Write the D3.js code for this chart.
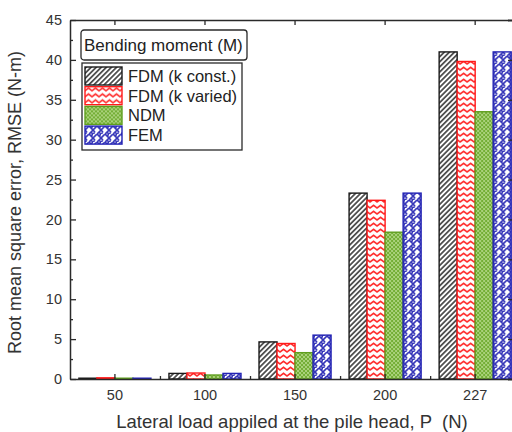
<!DOCTYPE html>
<html>
<head>
<meta charset="utf-8">
<script src="https://cdn.jsdelivr.net/npm/d3@7"></script>
<style>
  html, body { margin: 0; padding: 0; background: #fff; }
  svg { display: block; font-family: "Liberation Sans", Arial, sans-serif; }
</style>
</head>
<body>
<svg id="chart" width="512" height="432"></svg>
<script>
// Lateral loads (category labels)
const loads = ["50", "100", "150", "200", "227"];
// RMSE of bending moment for each method
const fdmConst = [0.1, 0.7, 4.65, 23.3, 41.0];
const fdmVaried = [0.15, 0.75, 4.45, 22.4, 39.8];
const ndm = [0.1, 0.5, 3.3, 18.4, 33.5];
const fem = [0.1, 0.7, 5.5, 23.3, 41.0];
const seriesNames = ["FDM (k const.)", "FDM (k varied)", "NDM", "FEM"];
const yTicks = [0, 5, 10, 15, 20, 25, 30, 35, 40, 45];

const seriesValues = [fdmConst, fdmVaried, ndm, fem];
const seriesColors = ["#1a1a1a", "#ff1a1a", "#5f9e1e", "#2323b4"];
const seriesPatterns = ["pat-hatch", "pat-zigzag", "pat-dots", "pat-weave"];

const svg = d3.select("#chart");
const plot = { left: 70, right: 514, top: 20, bottom: 379 };

const x = d3.scaleBand()
  .domain(loads)
  .range([plot.left, plot.right])
  .paddingInner(0.2)
  .paddingOuter(0.065)
  .align(0.76);
const xs = d3.scaleBand()
  .domain(seriesNames)
  .range([0, x.bandwidth()]);
const y = d3.scaleLinear().domain([0, 45]).range([plot.bottom, plot.top]);

// Fill patterns
const defs = svg.append("defs");

const hatch = defs.append("pattern").attr("id", "pat-hatch")
  .attr("patternUnits", "userSpaceOnUse").attr("width", 3.6).attr("height", 3.6)
  .attr("patternTransform", "rotate(45)");
hatch.append("rect").attr("width", 3.6).attr("height", 3.6).attr("fill", "#fff");
hatch.append("line").attr("x1", 0.9).attr("y1", 0).attr("x2", 0.9).attr("y2", 3.6)
  .attr("stroke", "#3a3a3a").attr("stroke-width", 1.6);

const zig = defs.append("pattern").attr("id", "pat-zigzag")
  .attr("patternUnits", "userSpaceOnUse").attr("width", 7).attr("height", 6);
zig.append("rect").attr("width", 7).attr("height", 6).attr("fill", "#fff");
zig.append("path").attr("d", "M-0.5,4.3 L3.5,1.3 L7.5,4.3")
  .attr("fill", "none").attr("stroke", "#ff2a2a").attr("stroke-width", 1.6);

const dots = defs.append("pattern").attr("id", "pat-dots")
  .attr("patternUnits", "userSpaceOnUse").attr("width", 4).attr("height", 4);
dots.append("rect").attr("width", 4).attr("height", 4).attr("fill", "#74ae36");
dots.append("circle").attr("cx", 1).attr("cy", 1).attr("r", 0.9).attr("fill", "#c4e29c");
dots.append("circle").attr("cx", 3).attr("cy", 3).attr("r", 0.9).attr("fill", "#c4e29c");

// herringbone-like weave: blue strokes on white
const weave = defs.append("pattern").attr("id", "pat-weave")
  .attr("patternUnits", "userSpaceOnUse").attr("width", 8).attr("height", 8);
weave.append("rect").attr("width", 8).attr("height", 8).attr("fill", "#fff");
weave.append("path")
  .attr("d", "M0,4 L4,0 M4,8 L8,4 M0,8 L2,6 M6,2 L8,0 M4,0 L8,4 M0,4 L2,6 M6,6 L8,8")
  .attr("fill", "none").attr("stroke", "#3434b8").attr("stroke-width", 1.7);

// Bars
const groups = svg.append("g").selectAll("g")
  .data(loads)
  .join("g")
  .attr("transform", d => `translate(${x(d)},0)`);

groups.selectAll("rect")
  .data((d, i) => seriesNames.map((s, k) => ({ s, k, v: seriesValues[k][i] })))
  .join("rect")
  .attr("x", d => xs(d.s))
  .attr("y", d => y(d.v))
  .attr("width", xs.bandwidth())
  .attr("height", d => y(0) - y(d.v))
  .attr("fill", d => `url(#${seriesPatterns[d.k]})`)
  .attr("stroke", d => seriesColors[d.k])
  .attr("stroke-width", 1.4);

// Frame and axes
const axisColor = "#2a2a2a";
const textColor = "#333";

const yAxis = svg.append("g")
  .attr("transform", `translate(${plot.left},0)`)
  .call(d3.axisLeft(y).tickValues(yTicks).tickSizeInner(-6).tickSizeOuter(0).tickPadding(8));
const yMinor = svg.append("g")
  .attr("transform", `translate(${plot.left},0)`)
  .call(d3.axisLeft(y).tickValues(yTicks.slice(0, -1).map(v => v + 2.5)).tickSize(-3).tickFormat(""));

const yRight = svg.append("g")
  .attr("transform", `translate(${plot.right},0)`)
  .call(d3.axisRight(y).tickValues(yTicks).tickSize(-6).tickFormat(""));

const xAxis = svg.append("g")
  .attr("transform", `translate(0,${plot.bottom})`)
  .call(d3.axisBottom(x).tickSizeInner(-5).tickSizeOuter(0).tickPadding(11));
const boundaries = loads.slice(1).map(d => x(d) - x.step() * x.paddingInner() / 2);
const xMinor = svg.append("g")
  .attr("transform", `translate(0,${plot.bottom})`)
  .call(d3.axisBottom(d3.scaleLinear().domain([plot.left, plot.right]).range([plot.left, plot.right]))
    .tickValues(boundaries).tickSize(-3).tickFormat(""));

const xTop = svg.append("g")
  .attr("transform", `translate(0,${plot.top})`)
  .call(d3.axisTop(x).tickSizeInner(-5).tickSizeOuter(0).tickFormat(""));

[yAxis, yMinor, yRight, xAxis, xMinor, xTop].forEach(g => {
  g.selectAll(".domain").attr("stroke", axisColor).attr("stroke-width", 1.5);
  g.selectAll(".tick line").attr("stroke", axisColor).attr("stroke-width", 1.3);
  g.selectAll(".tick text").attr("fill", textColor).style("font-size", "14.5px")
    .style("font-family", "'Liberation Sans', Arial, sans-serif");
});
[yMinor, xMinor].forEach(g => g.select(".domain").remove());

// Axis titles
svg.append("text")
  .attr("x", 292)
  .attr("y", 428)
  .attr("text-anchor", "middle")
  .attr("fill", textColor)
  .style("font-size", "18.5px")
  .attr("xml:space", "preserve")
  .text("Lateral load appiled at the pile head, P  (N)");

svg.append("text")
  .attr("transform", `translate(21,${(plot.top + plot.bottom) / 2 + 3}) rotate(-90)`)
  .attr("text-anchor", "middle")
  .attr("fill", textColor)
  .style("font-size", "18px")
  .text("Root mean square error, RMSE (N-m)");

// Legend title box
const titleBox = svg.append("g").attr("transform", "translate(81,30)");
titleBox.append("rect").attr("width", 166).attr("height", 30).attr("rx", 3)
  .attr("fill", "#fff").attr("stroke", axisColor).attr("stroke-width", 1.3);
titleBox.append("text").attr("x", 3).attr("y", 21)
  .attr("fill", "#222").style("font-size", "17px")
  .text("Bending moment (M)");

// Legend
const legend = svg.append("g").attr("transform", "translate(82,63)");
legend.append("rect").attr("width", 160).attr("height", 87)
  .attr("fill", "#fff").attr("stroke", axisColor).attr("stroke-width", 1.3);
const items = legend.selectAll("g.item")
  .data(seriesNames)
  .join("g")
  .attr("class", "item")
  .attr("transform", (d, i) => `translate(3,${4 + i * 19.7})`);
items.append("rect")
  .attr("width", 37).attr("height", 18)
  .attr("fill", (d, i) => `url(#${seriesPatterns[i]})`)
  .attr("stroke", (d, i) => seriesColors[i])
  .attr("stroke-width", 1.4);
items.append("text")
  .attr("x", 43).attr("y", 15)
  .attr("fill", "#222")
  .style("font-size", "16.5px")
  .text(d => d);
</script>
</body>
</html>
